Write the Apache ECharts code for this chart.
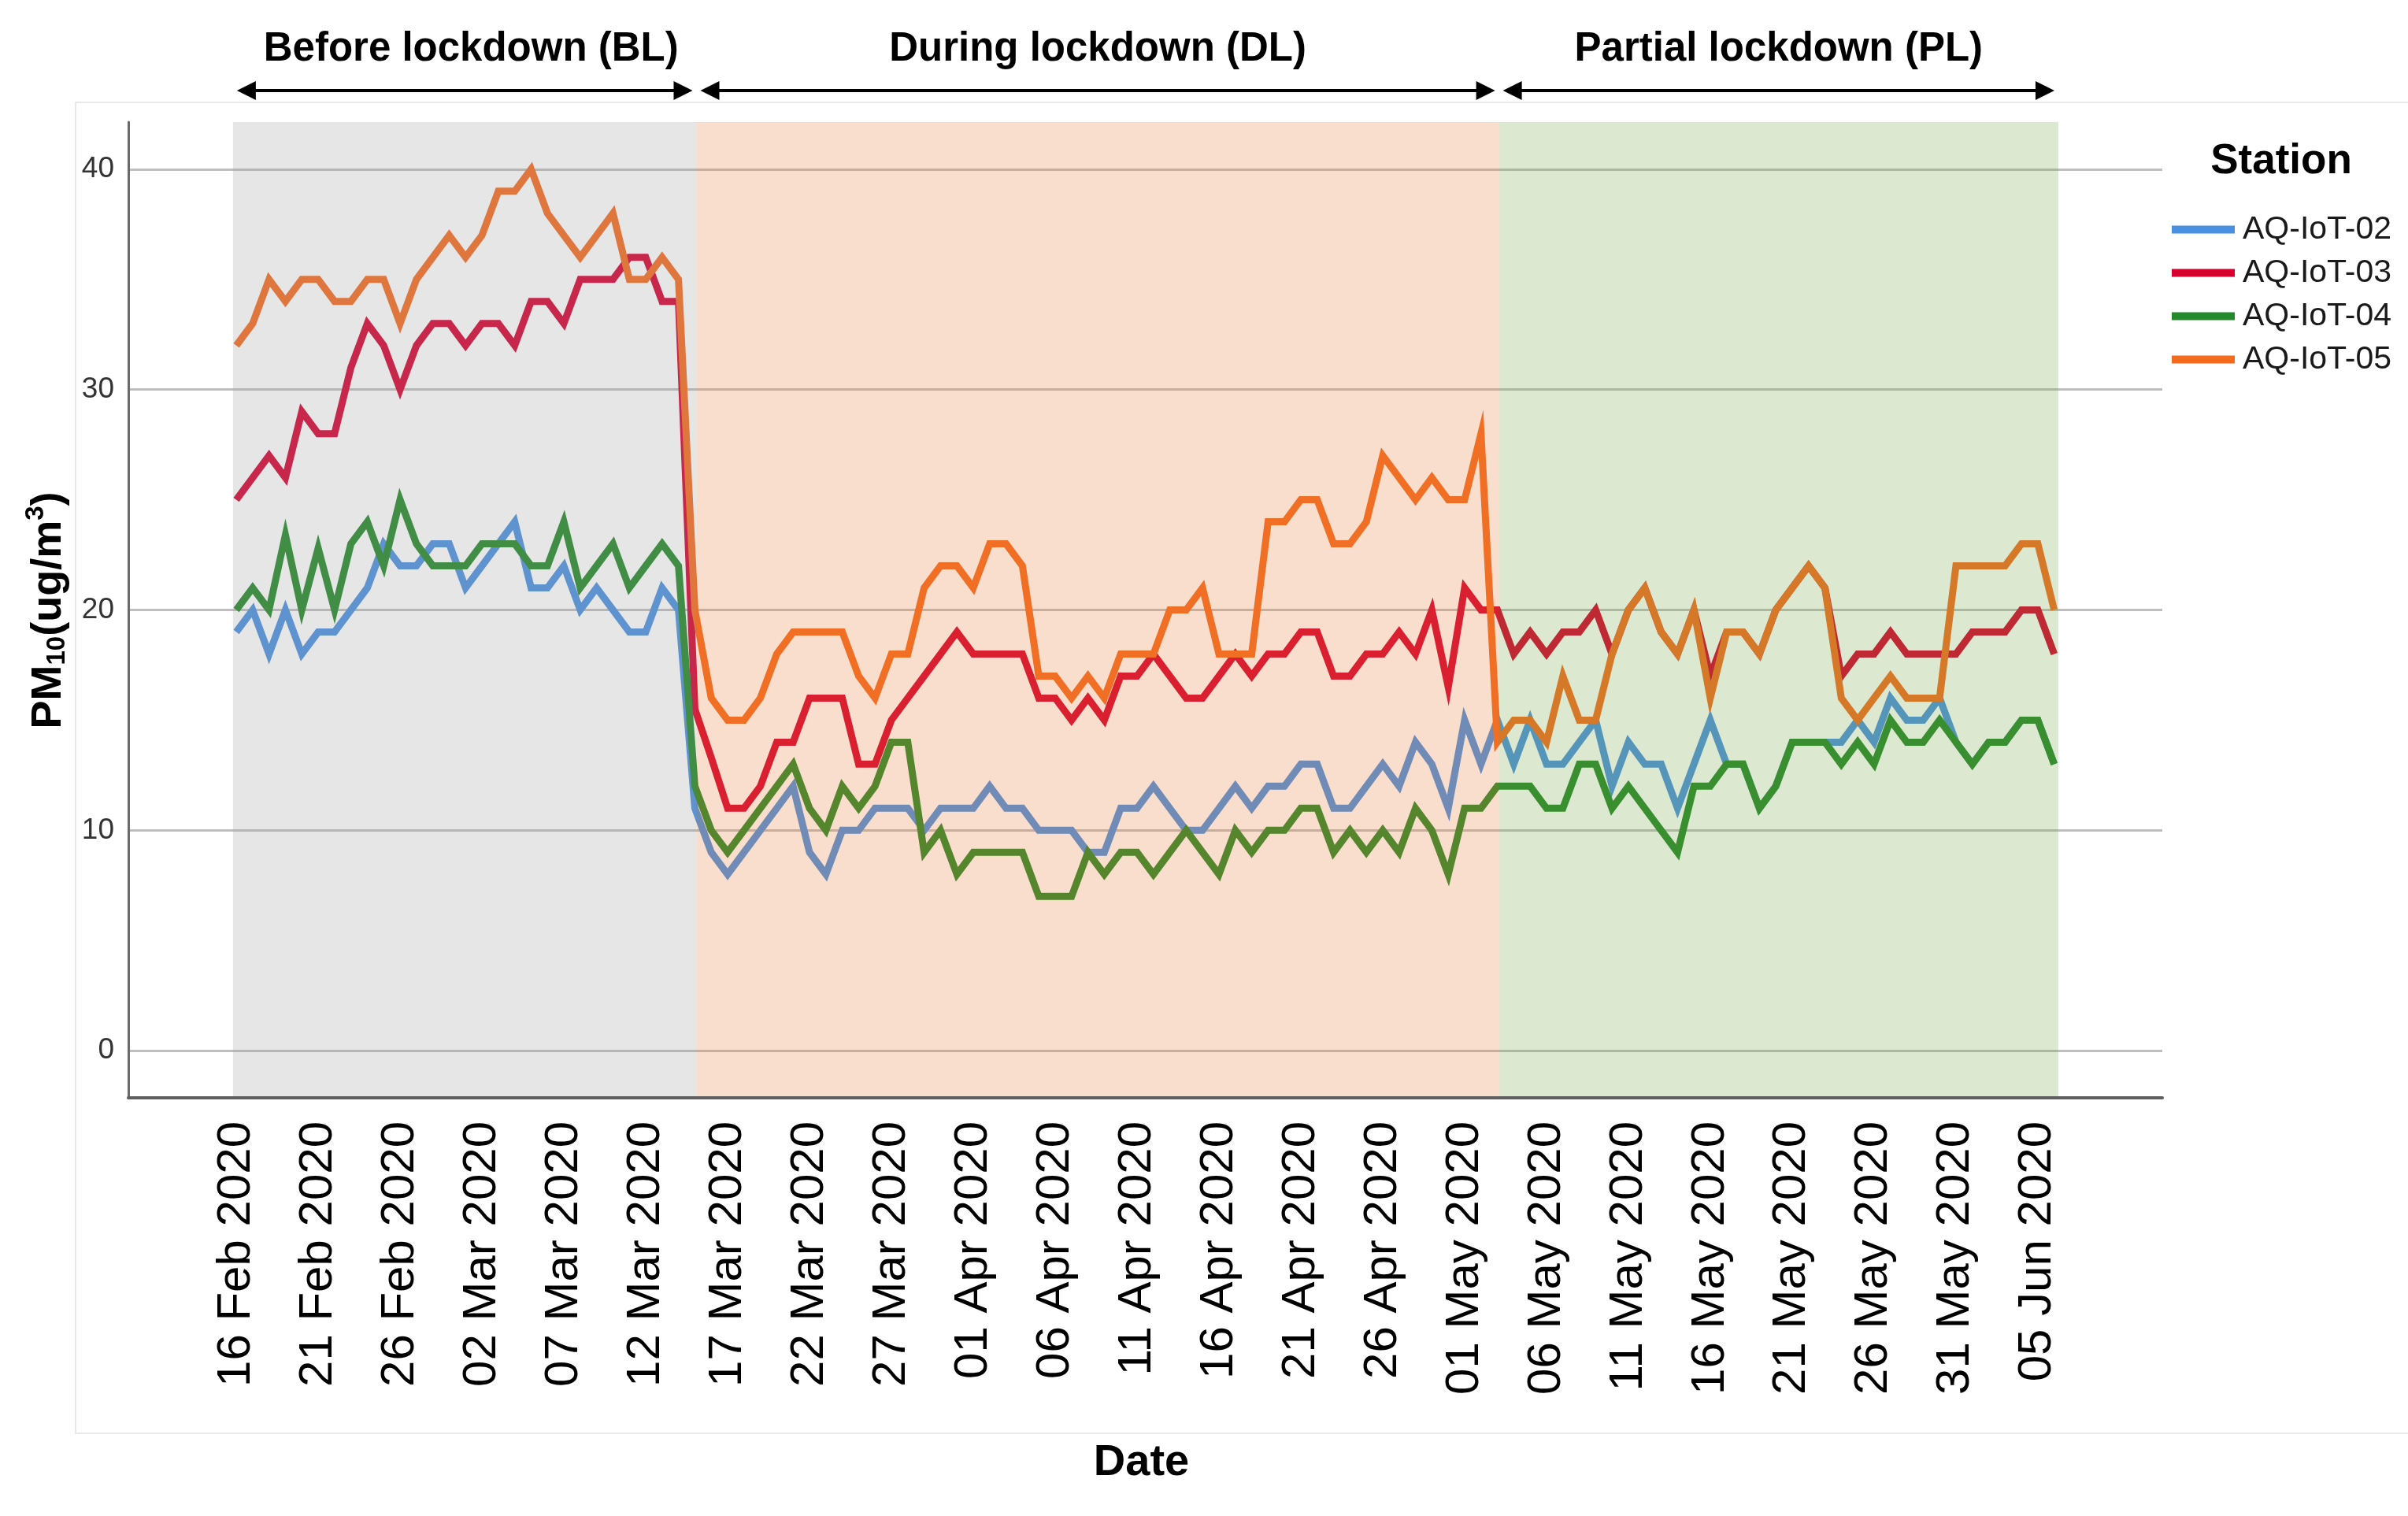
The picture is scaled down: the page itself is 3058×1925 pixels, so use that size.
<!DOCTYPE html>
<html><head><meta charset="utf-8">
<script src="https://cdn.jsdelivr.net/npm/echarts@6/dist/echarts.min.js"></script>
<style>html,body{margin:0;padding:0;background:#fff}#c{width:3058px;height:1925px}</style>
</head><body><div id="c"></div>
<script>
// ---------- DATA ----------
const dates = [
 '16 Feb 2020','17 Feb 2020','18 Feb 2020','19 Feb 2020','20 Feb 2020','21 Feb 2020','22 Feb 2020','23 Feb 2020','24 Feb 2020','25 Feb 2020','26 Feb 2020','27 Feb 2020','28 Feb 2020','29 Feb 2020',
 '01 Mar 2020','02 Mar 2020','03 Mar 2020','04 Mar 2020','05 Mar 2020','06 Mar 2020','07 Mar 2020','08 Mar 2020','09 Mar 2020','10 Mar 2020','11 Mar 2020','12 Mar 2020','13 Mar 2020','14 Mar 2020',
 '15 Mar 2020','16 Mar 2020','17 Mar 2020','18 Mar 2020','19 Mar 2020','20 Mar 2020','21 Mar 2020','22 Mar 2020','23 Mar 2020','24 Mar 2020','25 Mar 2020','26 Mar 2020','27 Mar 2020','28 Mar 2020',
 '29 Mar 2020','30 Mar 2020','31 Mar 2020','01 Apr 2020','02 Apr 2020','03 Apr 2020','04 Apr 2020','05 Apr 2020','06 Apr 2020','07 Apr 2020','08 Apr 2020','09 Apr 2020','10 Apr 2020','11 Apr 2020',
 '12 Apr 2020','13 Apr 2020','14 Apr 2020','15 Apr 2020','16 Apr 2020','17 Apr 2020','18 Apr 2020','19 Apr 2020','20 Apr 2020','21 Apr 2020','22 Apr 2020','23 Apr 2020','24 Apr 2020','25 Apr 2020',
 '26 Apr 2020','27 Apr 2020','28 Apr 2020','29 Apr 2020','30 Apr 2020','01 May 2020','02 May 2020','03 May 2020','04 May 2020','05 May 2020','06 May 2020','07 May 2020','08 May 2020','09 May 2020',
 '10 May 2020','11 May 2020','12 May 2020','13 May 2020','14 May 2020','15 May 2020','16 May 2020','17 May 2020','18 May 2020','19 May 2020','20 May 2020','21 May 2020','22 May 2020','23 May 2020',
 '24 May 2020','25 May 2020','26 May 2020','27 May 2020','28 May 2020','29 May 2020','30 May 2020','31 May 2020','01 Jun 2020','02 Jun 2020','03 Jun 2020','04 Jun 2020','05 Jun 2020','06 Jun 2020'
];
const tickLabels = ['16 Feb 2020','21 Feb 2020','26 Feb 2020','02 Mar 2020','07 Mar 2020','12 Mar 2020','17 Mar 2020','22 Mar 2020','27 Mar 2020','01 Apr 2020','06 Apr 2020','11 Apr 2020','16 Apr 2020','21 Apr 2020','26 Apr 2020','01 May 2020','06 May 2020','11 May 2020','16 May 2020','21 May 2020','26 May 2020','31 May 2020','05 Jun 2020'];
const yTicks = [0, 10, 20, 30, 40];
const stations = ['AQ-IoT-02', 'AQ-IoT-03', 'AQ-IoT-04', 'AQ-IoT-05'];

const aq02 = [
 19,20,18,20,18,19,19,20,21,23,22,22,23,23,
 21,22,23,24,21,21,22,20,21,20,19,19,21,20,
 11,9,8,9,10,11,12,9,8,10,10,11,11,11,
 10,11,11,11,12,11,11,10,10,10,9,9,11,11,
 12,11,10,10,11,12,11,12,12,13,13,11,11,12,
 13,12,14,13,11,15,13,15,13,15,13,13,14,15,
 12,14,13,13,11,13,15,13,13,11,12,14,14,14,
 14,15,14,16,15,15,16,14,13,14,14,15,15,13
];
const aq03 = [
 25,26,27,26,29,28,28,31,33,32,30,32,33,33,
 32,33,33,32,34,34,33,35,35,35,36,36,34,34,
 15.5,13.3,11,11,12,14,14,16,16,16,13,13,15,16,
 17,18,19,18,18,18,18,16,16,15,16,15,17,17,
 18,17,16,16,17,18,17,18,18,19,19,17,17,18,
 18,19,18,20,16.5,21,20,20,18,19,18,19,19,20,
 18,20,21,19,18,20,17,19,19,18,20,21,22,21,
 17,18,18,19,18,18,18,18,19,19,19,20,20,18
];
const aq04 = [
 20,21,20,23.4,20,22.8,20,23,24,22,25,23,22,22,
 22,23,23,23,22,22,24,21,22,23,21,22,23,22,
 12,10,9,10,11,12,13,11,10,12,11,12,14,14,
 9,10,8,9,9,9,9,7,7,7,9,8,9,9,
 8,9,10,9,8,10,9,10,10,11,11,9,10,9,
 10,9,11,10,8,11,11,12,12,12,11,11,13,13,
 11,12,11,10,9,12,12,13,13,11,12,14,14,14,
 13,14,13,15,14,14,15,14,13,14,14,15,15,13
];
const aq05 = [
 32,33,35,34,35,35,34,34,35,35,33,35,36,37,
 36,37,39,39,40,38,37,36,37,38,35,35,36,35,
 20,16,15,15,16,18,19,19,19,19,17,16,18,18,
 21,22,22,21,23,23,22,17,17,16,17,16,18,18,
 18,20,20,21,18,18,18,24,24,25,25,23,23,24,
 27,26,25,26,25,25,28,14,15,15,14,17,15,15,
 18,20,21,19,18,20,16,19,19,18,20,21,22,21,
 16,15,16,17,16,16,16,22,22,22,22,23,23,20
];
const periods = ['Before lockdown (BL)', 'During lockdown (DL)', 'Partial lockdown (PL)'];
const periodBounds = [-0.2, 28.1, 77.1, 111.25]; // in day-index units along the date axis

// ---------- CHART ----------
const FONT = '"Liberation Sans", Arial, sans-serif';
const lineColors = ['#4A90E2', '#D6002F', '#24892A', '#F46A1F'];
const bandColors = ['rgba(155,155,155,0.25)', 'rgba(231,123,55,0.25)', 'rgba(119,163,67,0.25)'];
const seriesValues = [aq02, aq03, aq04, aq05];

const chart = echarts.init(document.getElementById('c'), null, {renderer: 'canvas', devicePixelRatio: 1});

const series = stations.map((name, k) => {
  const s = {
    name: name, type: 'line', z: 2,
    data: seriesValues[k].map((v, i) => [i, v]),
    showSymbol: false, symbol: 'none',
    lineStyle: {width: 9, color: lineColors[k], join: 'miter'},
    itemStyle: {color: lineColors[k]},
    emphasis: {disabled: true},
    animation: false
  };
  if (k === 0) {
    s.markLine = {
      silent: true, z: 1, symbol: 'none', animation: false,
      label: {show: false},
      lineStyle: {color: '#BEBEBE', width: 3, type: 'solid'},
      data: yTicks.map(v => ({yAxis: v}))
    };
  }
  if (k === 3) {
    s.markArea = {
      silent: true, z: 10, animation: false,
      data: periods.map((p, i) => [
        {xAxis: periodBounds[i], itemStyle: {color: bandColors[i]}},
        {xAxis: periodBounds[i + 1]}
      ])
    };
  }
  return s;
});

chart.setOption({
  animation: false,
  backgroundColor: '#ffffff',
  grid: {left: 163, right: 312, top: 155, bottom: 531, containLabel: false},
  xAxis: {
    type: 'value', min: -6.59, max: 117.6, z: 20,
    axisLine: {show: true, onZero: false, lineStyle: {color: '#5f5f5f', width: 4}},
    axisTick: {show: false},
    splitLine: {show: false},
    axisLabel: {
      customValues: tickLabels.map(l => dates.indexOf(l)),
      formatter: v => dates[Math.round(v)],
      rotate: 90, fontSize: 60, fontFamily: FONT, color: '#000', margin: 30
    }
  },
  yAxis: {
    type: 'value', min: -2.14, max: 42.14, z: 20,
    axisLine: {show: true, onZero: false, lineStyle: {color: '#6a6a6a', width: 3}},
    axisTick: {show: false},
    splitLine: {show: false},
    axisLabel: {customValues: yTicks, fontSize: 37, fontFamily: FONT, color: '#333', margin: 18}
  },
  legend: {
    orient: 'vertical', left: 2753, top: 266,
    itemWidth: 80, itemHeight: 10, itemGap: 14, icon: 'rect',
    data: stations,
    textStyle: {fontSize: 41, fontFamily: FONT, color: '#1a1a1a', padding: [0, 0, 0, 5]},
    selectedMode: false
  },
  series: series
});

// ---------- ANNOTATIONS (positions derived from axis scale) ----------
const px = v => chart.convertToPixel({gridIndex: 0}, [v, 0])[0];
const graphics = [];
graphics.push({type: 'rect', z: -10, shape: {x: 96, y: 130, width: 3100, height: 1690},
  style: {fill: 'none', stroke: '#E9E9E9', lineWidth: 2}, silent: true});
const arrowY = 115, inset = 5, headL = 24, headH = 12;
periods.forEach((p, i) => {
  const xL = px(periodBounds[i]) + inset;
  const xR = px(periodBounds[i + 1]) - inset;
  graphics.push({type: 'line', shape: {x1: xL + headL - 2, y1: arrowY, x2: xR - headL + 2, y2: arrowY},
    style: {stroke: '#000', lineWidth: 4}, silent: true});
  graphics.push({type: 'polygon', shape: {points: [[xL, arrowY], [xL + headL, arrowY - headH], [xL + headL, arrowY + headH]]},
    style: {fill: '#000'}, silent: true});
  graphics.push({type: 'polygon', shape: {points: [[xR, arrowY], [xR - headL, arrowY - headH], [xR - headL, arrowY + headH]]},
    style: {fill: '#000'}, silent: true});
  graphics.push({type: 'text', x: (xL + xR) / 2 + (i === 0 ? 8 : 0), y: 63,
    style: {text: p, font: 'bold 51px ' + FONT, fill: '#000', align: 'center', verticalAlign: 'middle'}, silent: true});
});
graphics.push({type: 'text', x: 59, y: 775, rotation: Math.PI / 2,
  style: {
    text: '{a|PM}{b|10}{a|(ug/m}{c|3}{a|)}',
    align: 'center', verticalAlign: 'middle', fill: '#000',
    rich: {
      a: {fontSize: 54, fontWeight: 'bold', fontFamily: FONT, fill: '#000', lineHeight: 60, verticalAlign: 'bottom'},
      b: {fontSize: 33, fontWeight: 'bold', fontFamily: FONT, fill: '#000', lineHeight: 60, verticalAlign: 'bottom'},
      c: {fontSize: 33, fontWeight: 'bold', fontFamily: FONT, fill: '#000', lineHeight: 60, verticalAlign: 'top'}
    }
  }, silent: true});
graphics.push({type: 'text', x: (px(-6.59) + px(117.6)) / 2 - 5, y: 1858,
  style: {text: 'Date', font: 'bold 56px ' + FONT, fill: '#000', align: 'center', verticalAlign: 'middle'}, silent: true});
graphics.push({type: 'text', x: 2897, y: 205,
  style: {text: 'Station', font: 'bold 53px ' + FONT, fill: '#000', align: 'center', verticalAlign: 'middle'}, silent: true});
chart.setOption({graphic: graphics});
</script>
</body></html>
